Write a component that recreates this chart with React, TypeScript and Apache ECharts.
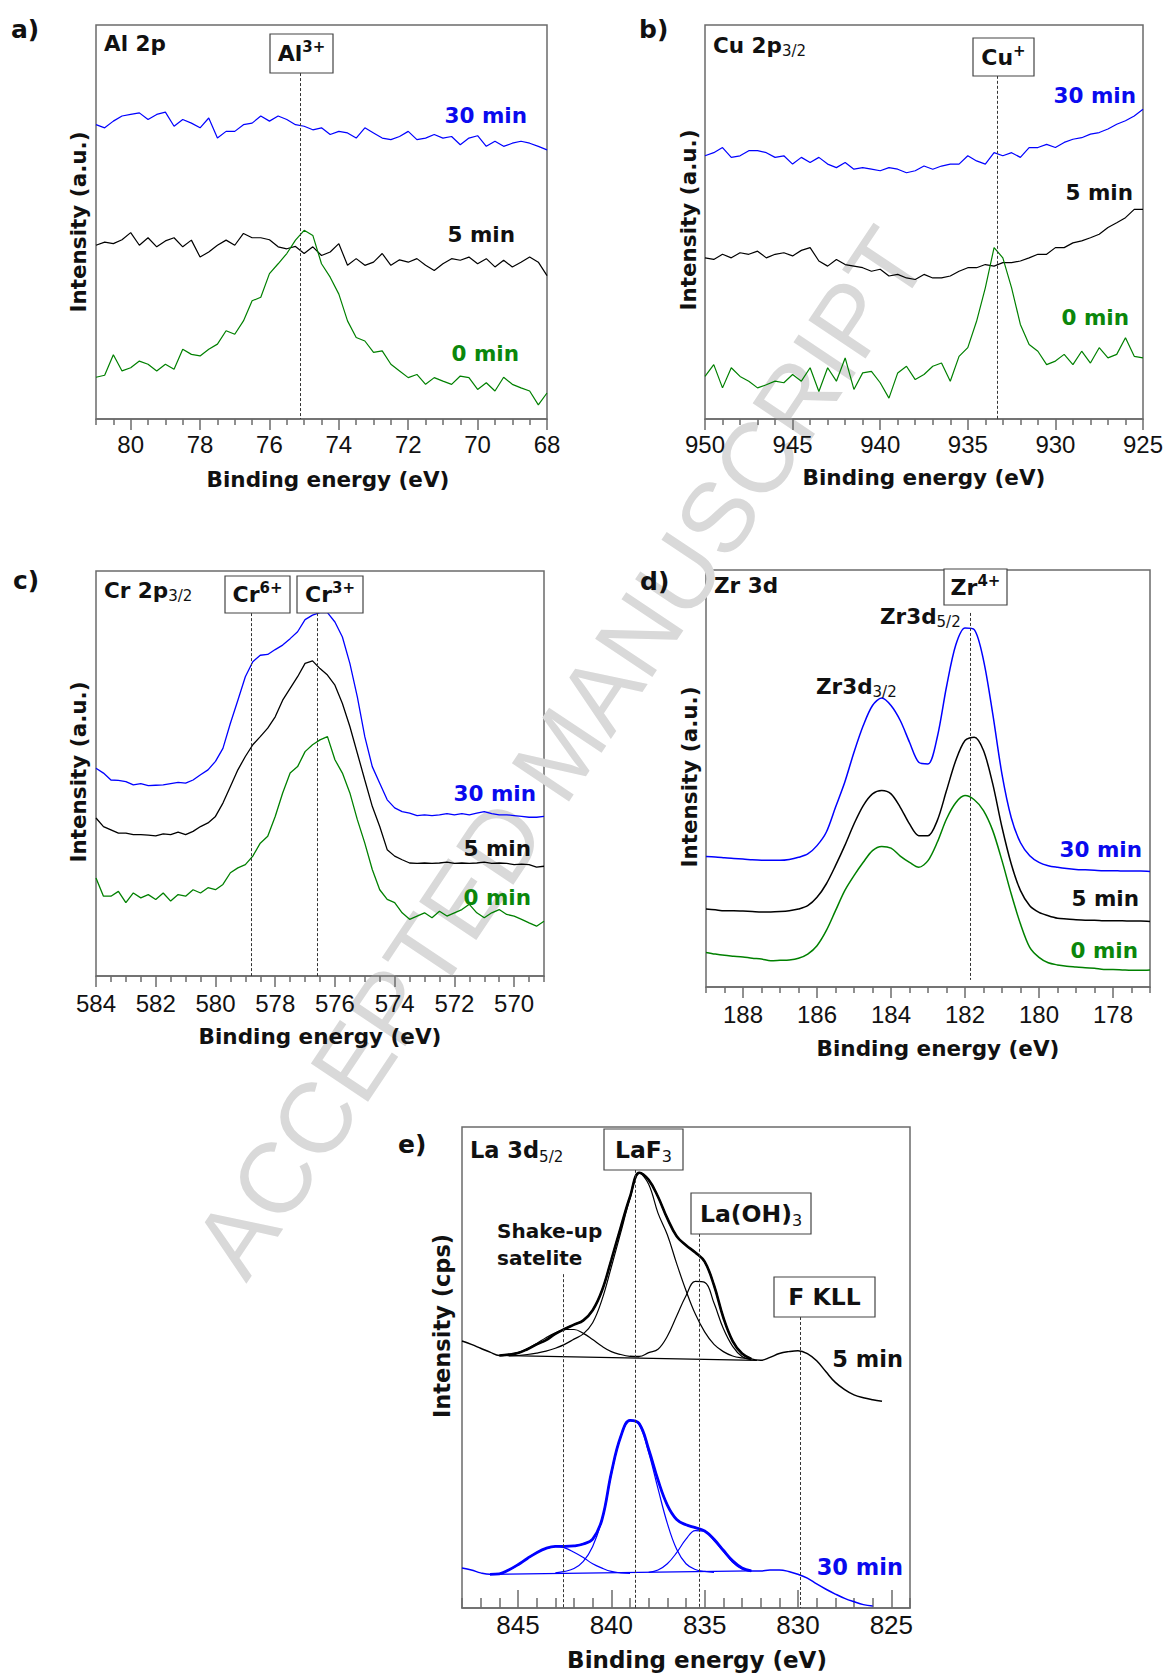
import React, { useEffect, useRef } from "react";
import * as echarts from "echarts";

// ---------------- Panel a : Al 2p ----------------
const aEnergy = [81, 80.75, 80.5, 80.25, 80, 79.75, 79.5, 79.25, 79, 78.75, 78.5, 78.25, 78, 77.75, 77.5, 77.25, 77, 76.75, 76.5, 76.25, 76, 75.75, 75.5, 75.25, 75, 74.75, 74.5, 74.25, 74, 73.75, 73.5, 73.25, 73, 72.75, 72.5, 72.25, 72, 71.75, 71.5, 71.25, 71, 70.75, 70.5, 70.25, 70, 69.75, 69.5, 69.25, 69, 68.75, 68.5, 68.25, 68];
const aInt30 = [74.7, 73.9, 75.6, 76.9, 77.3, 77.7, 76.0, 77.3, 77.9, 74.3, 76.0, 75.1, 73.9, 76.4, 71.3, 73.0, 73.0, 74.7, 75.1, 76.9, 75.6, 76.9, 76.0, 74.7, 74.3, 73.4, 73.9, 72.2, 73.0, 72.6, 71.3, 73.9, 72.6, 71.3, 70.9, 71.7, 73.0, 70.9, 71.3, 72.2, 71.3, 71.7, 69.6, 71.3, 71.9, 69.2, 70.5, 69.2, 70.0, 70.5, 70.0, 69.2, 68.3];
const aInt5 = [44.1, 44.9, 44.5, 45.5, 47.3, 44.1, 46.0, 43.7, 45.2, 46.0, 43.7, 45.4, 41.1, 42.4, 44.1, 45.4, 44.1, 47.1, 46.0, 46.0, 45.5, 43.7, 43.2, 43.8, 42.0, 43.7, 41.5, 42.4, 44.5, 39.0, 40.7, 39.0, 39.8, 42.0, 39.0, 40.4, 39.8, 40.7, 39.0, 37.7, 39.4, 40.7, 40.3, 41.1, 39.4, 40.7, 38.6, 40.3, 38.6, 39.8, 41.1, 39.8, 36.4];
const aInt0 = [10.6, 11.1, 16.3, 12.2, 13.0, 14.7, 13.9, 12.2, 13.9, 12.6, 17.7, 16.4, 16.0, 17.7, 19.0, 22.4, 21.5, 24.9, 30.0, 30.9, 36.9, 39.4, 42.0, 45.4, 47.9, 46.6, 39.4, 36.0, 31.7, 24.9, 20.7, 19.8, 16.9, 17.3, 13.9, 12.2, 10.5, 11.3, 8.8, 10.5, 9.6, 8.8, 10.9, 10.5, 7.5, 9.2, 7.1, 10.6, 8.8, 7.9, 7.1, 3.6, 6.6];
const aTicks = [68, 70, 72, 74, 76, 78, 80];
const aAl3 = 75.1;

// ---------------- Panel b : Cu 2p3/2 ----------------
const bEnergy = [950, 949.5, 949, 948.5, 948, 947.5, 947, 946.5, 946, 945.5, 945, 944.5, 944, 943.5, 943, 942.5, 942, 941.5, 941, 940.5, 940, 939.5, 939, 938.5, 938, 937.5, 937, 936.5, 936, 935.5, 935, 934.5, 934, 933.5, 933, 932.5, 932, 931.5, 931, 930.5, 930, 929.5, 929, 928.5, 928, 927.5, 927, 926.5, 926, 925.5, 925];
const bInt30 = [66.8, 67.6, 68.9, 66.4, 66.8, 68.1, 68.1, 67.6, 66.4, 66.8, 64.7, 66.4, 65.1, 66.4, 64.7, 63.8, 65.1, 63.4, 63.8, 63.4, 63.0, 63.8, 63.4, 62.5, 63.0, 64.2, 63.4, 64.2, 64.7, 64.7, 66.8, 65.5, 64.7, 67.6, 66.8, 67.6, 66.4, 68.9, 68.9, 69.7, 68.9, 70.2, 71.0, 71.4, 72.3, 72.7, 73.6, 74.8, 75.7, 76.9, 78.6];
const bInt5 = [40.9, 40.5, 41.8, 40.9, 42.2, 41.8, 42.6, 40.9, 41.8, 42.2, 41.4, 42.8, 43.5, 40.1, 38.8, 40.5, 39.2, 38.8, 38.4, 37.5, 38.0, 36.3, 36.7, 35.8, 35.4, 36.7, 35.8, 35.8, 36.3, 37.5, 38.4, 38.4, 39.2, 38.8, 39.7, 39.7, 40.1, 40.9, 41.8, 41.8, 43.5, 43.5, 44.7, 45.2, 46.0, 46.9, 48.6, 49.8, 51.1, 53.2, 53.2];
const bInt0 = [10.8, 13.8, 7.9, 13.0, 10.8, 9.6, 7.9, 8.7, 9.6, 9.2, 11.3, 9.6, 13.0, 7.0, 13.0, 9.6, 15.5, 7.5, 11.7, 12.1, 9.2, 5.3, 11.7, 13.4, 10.0, 11.3, 13.4, 14.2, 9.6, 15.9, 18.1, 24.8, 33.3, 43.5, 40.9, 33.3, 24.0, 18.9, 17.2, 13.8, 14.7, 16.4, 13.8, 17.2, 14.2, 18.1, 15.5, 16.4, 20.6, 15.9, 15.5];
const bTicks = [925, 930, 935, 940, 945, 950];
const bCu1 = 933.3;

// ---------------- Panel c : Cr 2p3/2 ----------------
const cEnergy = [584, 583.75, 583.5, 583.25, 583, 582.75, 582.5, 582.25, 582, 581.75, 581.5, 581.25, 581, 580.75, 580.5, 580.25, 580, 579.75, 579.5, 579.25, 579, 578.75, 578.5, 578.25, 578, 577.75, 577.5, 577.25, 577, 576.75, 576.5, 576.25, 576, 575.75, 575.5, 575.25, 575, 574.75, 574.5, 574.25, 574, 573.75, 573.5, 573.25, 573, 572.75, 572.5, 572.25, 572, 571.75, 571.5, 571.25, 571, 570.75, 570.5, 570.25, 570, 569.75, 569.5, 569.25, 569];
const cInt30 = [51.3, 50.1, 48.4, 48.3, 48.0, 47.2, 47.5, 47.0, 47.1, 47.2, 47.5, 47.8, 47.6, 48.4, 49.7, 50.9, 53.0, 56.2, 62.4, 68.1, 73.9, 77.6, 79.2, 79.4, 80.6, 81.7, 83.3, 85.0, 88.0, 89.1, 89.7, 89.7, 87.4, 83.7, 77.2, 68.9, 59.1, 51.7, 47.6, 43.5, 41.5, 40.6, 40.2, 39.6, 39.8, 39.6, 39.8, 40.1, 39.8, 40.1, 39.8, 40.2, 40.6, 40.1, 39.8, 39.8, 39.6, 39.4, 39.2, 39.2, 39.4];
const cInt5 = [39.0, 36.9, 36.1, 35.3, 35.3, 34.9, 34.9, 34.8, 34.6, 35.1, 34.9, 35.5, 34.9, 35.7, 36.9, 37.8, 39.4, 42.7, 46.8, 50.9, 54.2, 57.1, 59.1, 61.2, 64.0, 68.1, 71.0, 73.9, 77.2, 77.8, 75.9, 74.3, 71.8, 67.3, 61.6, 55.0, 48.4, 41.9, 36.9, 31.2, 29.6, 28.7, 27.9, 27.8, 27.9, 27.8, 27.9, 28.1, 27.8, 27.9, 27.8, 27.9, 28.1, 27.8, 27.9, 27.8, 27.5, 27.6, 27.5, 26.9, 27.1];
const cInt0 = [24.2, 19.7, 19.7, 20.9, 18.1, 20.5, 19.3, 20.1, 18.9, 20.5, 18.5, 20.1, 19.7, 21.3, 20.5, 21.8, 21.3, 22.6, 25.5, 26.7, 27.5, 29.6, 32.8, 34.5, 39.4, 45.2, 50.1, 51.7, 55.4, 57.1, 58.3, 59.1, 53.4, 50.1, 45.2, 38.6, 32.8, 26.3, 21.3, 18.9, 18.1, 15.6, 14.0, 14.8, 15.6, 14.4, 16.0, 14.8, 15.6, 16.4, 17.7, 15.6, 14.4, 15.6, 16.4, 15.2, 14.8, 14.0, 13.1, 12.3, 13.5];
const cTicks = [570, 572, 574, 576, 578, 580, 582, 584];
const cCr6 = 578.8;
const cCr3 = 576.6;

// ---------------- Panel d : Zr 3d ----------------
const dEnergy = [189, 188.75, 188.5, 188.25, 188, 187.75, 187.5, 187.25, 187, 186.75, 186.5, 186.25, 186, 185.75, 185.5, 185.25, 185, 184.75, 184.5, 184.25, 184, 183.75, 183.5, 183.25, 183, 182.75, 182.5, 182.25, 182, 181.75, 181.5, 181.25, 181, 180.75, 180.5, 180.25, 180, 179.75, 179.5, 179.25, 179, 178.75, 178.5, 178.25, 178, 177.75, 177.5, 177.25, 177];
const dInt30 = [31.3, 31.2, 31.0, 30.8, 30.7, 30.5, 30.4, 30.4, 30.4, 30.6, 31.1, 31.9, 33.9, 37.1, 43.1, 49.1, 56.3, 62.7, 67.5, 69.3, 67.5, 63.9, 58.7, 53.9, 53.5, 59.9, 72.0, 82.0, 86.1, 85.7, 78.4, 65.5, 51.0, 40.6, 34.6, 31.5, 29.9, 29.1, 28.7, 28.4, 28.2, 28.1, 28.0, 27.9, 27.9, 27.8, 27.8, 27.8, 27.7];
const dInt5 = [18.7, 18.5, 18.3, 18.3, 18.2, 18.1, 18.0, 18.0, 18.1, 18.3, 18.7, 19.5, 21.5, 24.7, 29.1, 33.9, 39.1, 43.5, 46.3, 47.1, 46.3, 43.1, 39.1, 36.3, 36.3, 39.9, 47.1, 54.3, 59.1, 59.9, 56.7, 48.7, 38.3, 29.5, 23.1, 19.5, 17.9, 17.1, 16.5, 16.3, 16.1, 16.0, 16.0, 15.9, 15.9, 15.9, 15.8, 15.8, 15.7];
const dInt0 = [8.3, 7.9, 7.6, 7.4, 7.2, 6.9, 6.7, 6.3, 6.4, 6.5, 6.9, 7.9, 9.9, 13.5, 18.3, 23.1, 26.7, 29.9, 32.7, 33.7, 33.3, 31.4, 29.9, 28.7, 30.3, 34.7, 40.3, 44.2, 45.9, 44.9, 42.3, 37.5, 30.3, 22.3, 15.1, 9.5, 7.1, 5.8, 5.3, 5.0, 4.8, 4.6, 4.5, 4.2, 4.2, 4.1, 4.0, 4.0, 4.1];
const dTicks = [178, 180, 182, 184, 186, 188];
const dZr4 = 181.85;

// ---------------- Panel e : La 3d5/2 ----------------
const eEnergy = [848, 847.5, 847, 846.5, 846, 845.5, 845, 844.5, 844, 843.5, 843, 842.5, 842, 841.5, 841, 840.5, 840, 839.5, 839, 838.5, 838, 837.5, 837, 836.5, 836, 835.5, 835, 834.5, 834, 833.5, 833, 832.5, 832, 831.5, 831, 830.5, 830, 829.5, 829, 828.5, 828, 827.5, 827, 826.5, 826, 825.5];
const eInt5 = [55.5, 54.8, 54.0, 53.2, 52.5, 52.7, 53.0, 53.8, 54.8, 55.7, 57.0, 58.0, 58.9, 59.8, 61.9, 66.0, 72.4, 79.1, 85.5, 90.5, 89.0, 85.5, 81.0, 77.3, 75.4, 73.9, 72.0, 67.1, 60.4, 55.5, 52.9, 51.8, 51.5, 52.1, 52.9, 53.3, 53.5, 52.9, 51.4, 49.1, 46.9, 45.4, 44.3, 43.7, 43.3, 43.0];
const eInt30 = [8.3, 7.9, 7.3, 7.0, 7.1, 7.9, 9.0, 10.3, 11.5, 12.4, 12.8, 12.8, 12.9, 13.3, 14.3, 18.4, 28.1, 35.6, 39.0, 38.3, 33.0, 26.6, 21.4, 18.4, 17.3, 16.7, 16.0, 14.3, 12.0, 9.8, 8.3, 7.7, 7.7, 7.9, 7.9, 7.6, 7.0, 6.2, 5.0, 3.9, 2.9, 2.0, 1.3, 0.7, 0.4];
// fitted components, 5 min
const e5SatEnergy = [846, 845.5, 845, 844.5, 844, 843.5, 843, 842.5, 842, 841.5, 841, 840.5, 840, 839.5, 839, 838.5];
const e5Sat = [52.5, 52.7, 53.1, 53.9, 55.0, 56.2, 57.2, 57.9, 57.9, 57.1, 55.8, 54.4, 53.3, 52.7, 52.3, 52.2];
const e5LaFEnergy = [845.5, 845, 844.5, 844, 843.5, 843, 842.5, 842, 841.5, 841, 840.5, 840, 839.5, 839, 838.5, 838, 837.5, 837, 836.5, 836, 835.5, 835, 834.5, 834, 833.5, 833, 832.5];
const e5LaF = [52.4, 52.5, 52.7, 53.0, 53.4, 54.0, 54.8, 55.9, 57.0, 59.3, 64.1, 70.9, 78.0, 85.1, 90.4, 88.1, 82.1, 77.6, 71.6, 66.0, 61.1, 57.4, 54.8, 53.3, 52.4, 52.0, 51.8];
const e5LaOHEnergy = [839, 838.5, 838, 837.5, 837, 836.5, 836, 835.5, 835, 834.5, 834, 833.5, 833, 832.5];
const e5LaOH = [52.3, 52.3, 53.1, 53.8, 56.5, 60.7, 64.9, 67.9, 67.7, 63.4, 58.1, 54.4, 52.3, 51.6];
const e5BaseEnergy = [846, 832.2];
const e5Base = [52.5, 51.5];
// fitted components, 30 min
const e30SatEnergy = [846.5, 846, 845.5, 845, 844.5, 844, 843.5, 843, 842.5, 842, 841.5, 841, 840.5, 840, 839.5, 839];
const e30Sat = [7.0, 7.1, 7.9, 9.0, 10.3, 11.5, 12.4, 12.8, 12.5, 11.6, 10.5, 9.2, 8.3, 7.6, 7.3, 7.2];
const e30LaFEnergy = [843, 842.5, 842, 841.5, 841, 840.5, 840, 839.5, 839, 838.5, 838, 837.5, 837, 836.5, 836, 835.5, 835, 834.5];
const e30LaF = [7.3, 7.6, 8.2, 9.7, 12.8, 18.4, 27.8, 35.6, 39.0, 38.0, 32.3, 24.8, 17.6, 12.2, 9.2, 8.0, 7.6, 7.4];
const e30LaOHEnergy = [838, 837.5, 837, 836.5, 836, 835.5, 835, 834.5, 834, 833.5, 833, 832.5];
const e30LaOH = [7.4, 7.9, 9.2, 11.5, 14.3, 16.1, 16.0, 14.0, 11.8, 9.5, 8.1, 7.6];
const e30BaseEnergy = [846.5, 832.5];
const e30Base = [7.0, 7.7];
const eTicks = [825, 830, 835, 840, 845];
const eSat = 842.55;
const eLaF3 = 838.7;
const eLaOH3 = 835.3;
const eFKLL = 829.9;

// ---------------- styling ----------------
const BLUE = "#0000ff";
const GREEN = "#008000";
const BLACK = "#000000";
const BLUE_T = "#0a0aee";
const GREEN_T = "#0b870b";
const FRAME = "#6b6b6b";
const TF = '"DejaVu Sans", "Liberation Sans", sans-serif';
const NF = '"Liberation Sans", Arial, sans-serif';

function zip(xs: number[], ys: number[]) {
  return ys.map((y, i) => [xs[i], y]);
}

function minorList(min: number, max: number, step: number, majors: number[]) {
  const out: number[] = [];
  for (let v = min; v <= max + 1e-9; v += step) {
    const r = Math.round(v * 100) / 100;
    if (!majors.some((m) => Math.abs(m - r) < 1e-6)) out.push(r);
  }
  return out;
}

const panels = [
  { grid: { left: 96, top: 25, width: 451, height: 394 }, min: 68, max: 81, majors: aTicks, step: 0.5, inside: false, majorLen: 11, minorLen: 6, labelSize: 24, margin: 13 },
  { grid: { left: 705, top: 25, width: 438, height: 394 }, min: 925, max: 950, majors: bTicks, step: 1, inside: false, majorLen: 11, minorLen: 6, labelSize: 24, margin: 13 },
  { grid: { left: 96, top: 571, width: 448, height: 405 }, min: 569, max: 584, majors: cTicks, step: 0.5, inside: false, majorLen: 11, minorLen: 6, labelSize: 24, margin: 15 },
  { grid: { left: 706, top: 570, width: 444, height: 417 }, min: 177, max: 189, majors: dTicks, step: 0.5, inside: false, majorLen: 11, minorLen: 6, labelSize: 24, margin: 15 },
  { grid: { left: 462, top: 1127, width: 448, height: 481 }, min: 824, max: 848, majors: eTicks, step: 1, inside: true, majorLen: 18, minorLen: 10, labelSize: 26, margin: 4 },
];

const markStyle = { color: "#333", width: 1, type: [3, 2] as any };

function vline(x: number, y1: number, y2: number) {
  return [{ coord: [x, y1] }, { coord: [x, y2] }];
}

function line(p: number, data: number[][], color: string, width: number, smooth: any = false, extra: any = {}) {
  return {
    type: "line",
    xAxisIndex: p * 2,
    yAxisIndex: p,
    data,
    symbol: "none",
    showSymbol: false,
    smooth,
    silent: true,
    lineStyle: { color, width },
    itemStyle: { color },
    z: 3,
    ...extra,
  };
}

function marks(lines: any[]) {
  return {
    markLine: {
      silent: true,
      symbol: ["none", "none"],
      label: { show: false },
      lineStyle: markStyle,
      data: lines,
    },
  };
}

function txt(x: number, y: number, s: string, size: number, color = "#111", align = "left", rot = 0, weight = "bold") {
  return {
    type: "text",
    x,
    y,
    rotation: rot,
    z: 100,
    silent: true,
    style: {
      text: s,
      fill: color,
      font: `${weight} ${size}px ${TF}`,
      align,
      verticalAlign: "middle",
      textAlign: align,
      textVerticalAlign: "middle",
    },
  };
}

function rich(size: number) {
  const sp = Math.round(size * 0.66);
  const sb = Math.round(size * 0.68);
  return {
    m: { font: `bold ${size}px ${TF}`, fill: "#111", color: "#111", lineHeight: size + 6, verticalAlign: "middle" },
    sp: { font: `bold ${sp}px ${TF}`, fill: "#111", color: "#111", lineHeight: sp, verticalAlign: "top" },
    sb: { font: `${sb}px ${TF}`, fill: "#111", color: "#111", lineHeight: sb, verticalAlign: "bottom" },
  };
}

function rtxt(x: number, y: number, s: string, size: number, align = "center") {
  return {
    type: "text",
    x,
    y,
    z: 100,
    silent: true,
    style: {
      text: s,
      rich: rich(size),
      align,
      verticalAlign: "middle",
      textAlign: align,
      textVerticalAlign: "middle",
    },
  };
}

function box(x: number, y: number, w: number, h: number) {
  return {
    type: "rect",
    z: 90,
    silent: true,
    shape: { x, y, width: w, height: h },
    style: { fill: "#ffffff", stroke: "#444", lineWidth: 1.2 },
  };
}

function buildOption() {
  const grid: any[] = [];
  const xAxis: any[] = [];
  const yAxis: any[] = [];
  panels.forEach((p, i) => {
    grid.push({
      ...p.grid,
      show: true,
      borderColor: FRAME,
      borderWidth: 1.5,
      backgroundColor: "transparent",
      containLabel: false,
      outerBoundsMode: "none",
    });
    const minors = minorList(p.min, p.max, p.step, p.majors);
    xAxis.push({
      gridIndex: i,
      type: "value",
      min: p.min,
      max: p.max,
      inverse: true,
      position: "bottom",
      axisLine: { show: true, onZero: false, lineStyle: { color: FRAME, width: 1.5 } },
      axisTick: { show: true, inside: p.inside, length: p.majorLen, customValues: p.majors, lineStyle: { color: FRAME, width: 1.5 } },
      axisLabel: { show: true, customValues: p.majors, margin: p.margin, fontSize: p.labelSize, fontFamily: NF, color: "#111" },
      splitLine: { show: false },
      minorTick: { show: false },
    });
    xAxis.push({
      gridIndex: i,
      type: "value",
      min: p.min,
      max: p.max,
      inverse: true,
      position: "bottom",
      axisLine: { show: false, onZero: false },
      axisTick: { show: true, inside: p.inside, length: p.minorLen, customValues: minors, lineStyle: { color: FRAME, width: 1.5 } },
      axisLabel: { show: false },
      splitLine: { show: false },
    });
    yAxis.push({ gridIndex: i, type: "value", min: 0, max: 100, show: false, splitLine: { show: false } });
  });

  const series: any[] = [
    // a
    line(0, zip(aEnergy, aInt30), BLUE, 1.2, false, marks([vline(aAl3, 87.8, 0)])),
    line(0, zip(aEnergy, aInt5), BLACK, 1.2),
    line(0, zip(aEnergy, aInt0), GREEN, 1.2),
    // b
    line(1, zip(bEnergy, bInt30), BLUE, 1.2, false, marks([vline(bCu1, 87.1, 0)])),
    line(1, zip(bEnergy, bInt5), BLACK, 1.2),
    line(1, zip(bEnergy, bInt0), GREEN, 1.2),
    // c
    line(2, zip(cEnergy, cInt30), BLUE, 1.3, false, marks([vline(cCr6, 89.6, 0), vline(cCr3, 89.6, 0)])),
    line(2, zip(cEnergy, cInt5), BLACK, 1.3),
    line(2, zip(cEnergy, cInt0), GREEN, 1.3),
    // d
    line(3, zip(dEnergy, dInt30), BLUE, 1.5, 0.3, marks([vline(dZr4, 89.7, 1.7)])),
    line(3, zip(dEnergy, dInt5), BLACK, 1.5, 0.3),
    line(3, zip(dEnergy, dInt0), GREEN, 1.5, 0.3),
    // e components
    line(4, zip(e5BaseEnergy, e5Base), BLACK, 1.2),
    line(4, zip(e5SatEnergy, e5Sat), BLACK, 1.2, 0.4),
    line(4, zip(e5LaFEnergy, e5LaF), BLACK, 1.2, 0.4),
    line(4, zip(e5LaOHEnergy, e5LaOH), BLACK, 1.2, 0.4),
    line(4, zip(eEnergy, eInt5), BLACK, 1.5, 0.4, marks([vline(eSat, 69.4, 0), vline(eLaF3, 91.1, 0), vline(eLaOH3, 77.8, 0), vline(eFKLL, 60.5, 0)])),
    line(4, zip(eEnergy, eInt5).slice(4, 32), BLACK, 2.6, 0.4),
    line(4, zip(e30BaseEnergy, e30Base), BLUE, 1.2),
    line(4, zip(e30SatEnergy, e30Sat), BLUE, 1.2, 0.4),
    line(4, zip(e30LaFEnergy, e30LaF), BLUE, 1.2, 0.4),
    line(4, zip(e30LaOHEnergy, e30LaOH), BLUE, 1.2, 0.4),
    line(4, zip(eEnergy, eInt30), BLUE, 1.5, 0.4),
    line(4, zip(eEnergy, eInt30).slice(3, 32), BLUE, 2.8, 0.4),
  ];

  const graphic: any[] = [
    {
      type: "text",
      x: 560,
      y: 752,
      rotation: (56.2 * Math.PI) / 180,
      z: 0,
      silent: true,
      style: {
        text: "ACCEPTED MANUSCRIPT",
        fill: "#d9d9d9",
        font: `100px ${NF}`,
        align: "center",
        verticalAlign: "middle",
        textAlign: "center",
        textVerticalAlign: "middle",
      },
    },
    // panel letters
    txt(11, 29, "a)", 25),
    txt(639, 29, "b)", 25),
    txt(13, 580, "c)", 25),
    txt(640, 581, "d)", 25),
    txt(398, 1144, "e)", 25),
    // panel titles
    txt(104, 43, "Al 2p", 21.5),
    rtxt(713, 45, "{m|Cu 2p}{sb|3/2}", 21.5, "left"),
    rtxt(104, 590, "{m|Cr 2p}{sb|3/2}", 21.5, "left"),
    txt(714, 585, "Zr 3d", 21.5),
    rtxt(470, 1150, "{m|La 3d}{sb|5/2}", 22.5, "left"),
    // boxes
    box(270, 34, 63, 39),
    rtxt(301.5, 53.5, "{m|Al}{sp|3+}", 22),
    box(973, 38, 61, 38),
    rtxt(1003.5, 57, "{m|Cu}{sp|+}", 22),
    box(225, 576, 65, 37),
    rtxt(257.5, 594.5, "{m|Cr}{sp|6+}", 22),
    box(297, 576, 66, 37),
    rtxt(330, 594.5, "{m|Cr}{sp|3+}", 22),
    box(944, 569, 63, 36),
    rtxt(975.5, 587, "{m|Zr}{sp|4+}", 22),
    box(604, 1129, 79, 41),
    rtxt(643.5, 1149.5, "{m|LaF}{sb|3}", 23.5),
    box(691, 1193, 120, 41),
    rtxt(751, 1213.5, "{m|La(OH)}{sb|3}", 23.5),
    box(774, 1277, 101, 40),
    txt(824.5, 1297, "F KLL", 23.5, "#111", "center"),
    // annotations d / e
    rtxt(880, 616, "{m|Zr3d}{sb|5/2}", 21.5, "left"),
    rtxt(816, 686, "{m|Zr3d}{sb|3/2}", 21.5, "left"),
    txt(497, 1231, "Shake-up", 20),
    txt(497, 1258, "satelite", 20),
    // curve labels
    txt(527, 115, "30 min", 21.5, BLUE_T, "right"),
    txt(515, 234, "5 min", 21.5, "#111", "right"),
    txt(519, 353, "0 min", 21.5, GREEN_T, "right"),
    txt(1136, 95, "30 min", 21.5, BLUE_T, "right"),
    txt(1133, 192, "5 min", 21.5, "#111", "right"),
    txt(1129, 317, "0 min", 21.5, GREEN_T, "right"),
    txt(536, 793, "30 min", 21.5, BLUE_T, "right"),
    txt(531, 848, "5 min", 21.5, "#111", "right"),
    txt(531, 897, "0 min", 21.5, GREEN_T, "right"),
    txt(1142, 849, "30 min", 21.5, BLUE_T, "right"),
    txt(1139, 898, "5 min", 21.5, "#111", "right"),
    txt(1138, 950, "0 min", 21.5, GREEN_T, "right"),
    txt(903, 1359, "5 min", 22.5, "#111", "right"),
    txt(903, 1567, "30 min", 22.5, BLUE_T, "right"),
    // axis titles
    txt(78, 222, "Intensity (a.u.)", 21.5, "#111", "center", Math.PI / 2),
    txt(688, 220, "Intensity (a.u.)", 21.5, "#111", "center", Math.PI / 2),
    txt(78, 772, "Intensity (a.u.)", 21.5, "#111", "center", Math.PI / 2),
    txt(689, 777, "Intensity (a.u.)", 21.5, "#111", "center", Math.PI / 2),
    txt(442, 1326, "Intensity (cps)", 22.5, "#111", "center", Math.PI / 2),
    txt(328, 479, "Binding energy (eV)", 21.5, "#111", "center"),
    txt(924, 477, "Binding energy (eV)", 21.5, "#111", "center"),
    txt(320, 1036, "Binding energy (eV)", 21.5, "#111", "center"),
    txt(938, 1048, "Binding energy (eV)", 21.5, "#111", "center"),
    txt(697, 1660, "Binding energy (eV)", 23, "#111", "center"),
  ];

  return {
    animation: false,
    backgroundColor: "#ffffff",
    grid,
    xAxis,
    yAxis,
    series,
    graphic,
  };
}

export default function App() {
  const ref = useRef<HTMLDivElement>(null);
  useEffect(() => {
    document.body.style.margin = "0";
    const chart = echarts.init(ref.current as HTMLDivElement, undefined, { renderer: "svg", width: 1167, height: 1674 });
    chart.setOption(buildOption() as any);
    return () => chart.dispose();
  }, []);
  return <div ref={ref} style={{ position: "absolute", left: 0, top: 0, width: 1167, height: 1674, background: "#fff" }} />;
}
